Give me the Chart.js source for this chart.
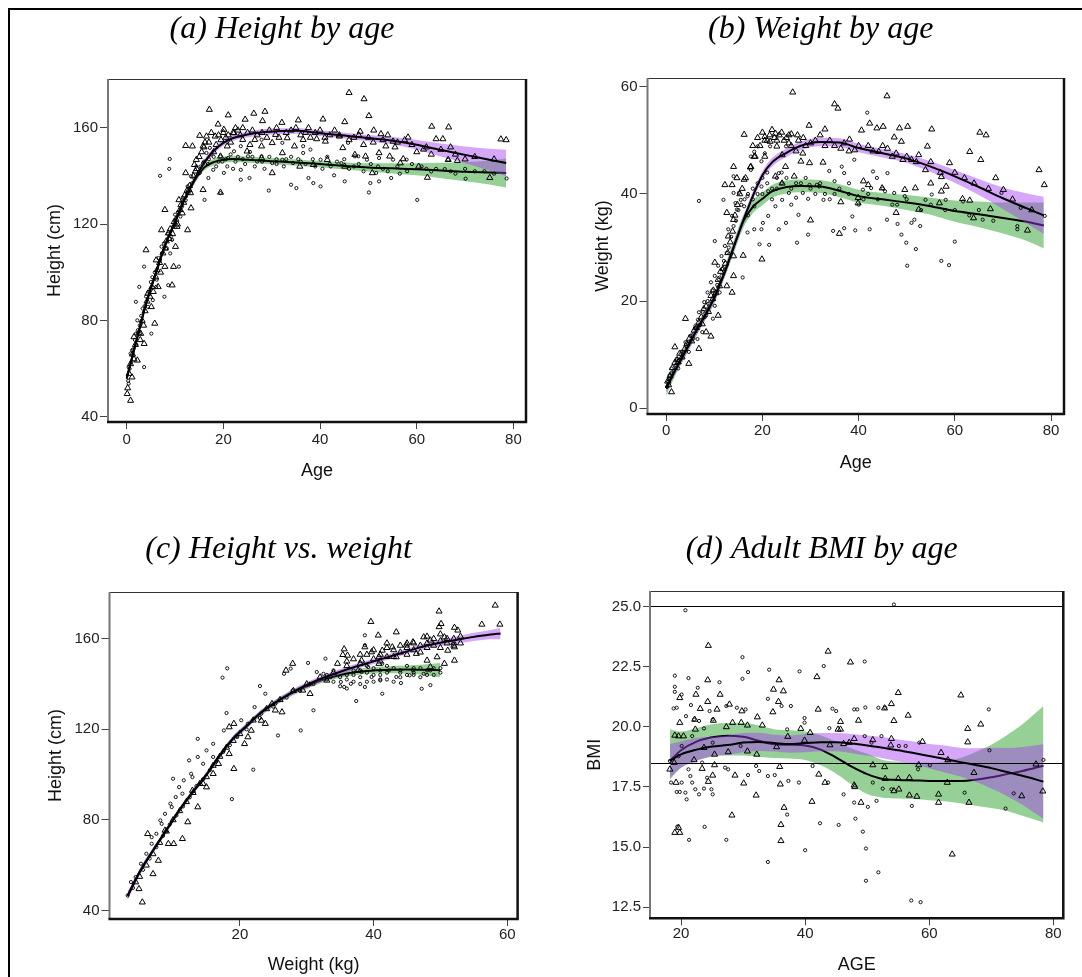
<!DOCTYPE html>
<html>
<head>
<meta charset="utf-8">
<script src="https://cdn.jsdelivr.net/npm/chart.js@4.4.0/dist/chart.umd.min.js"></script>
<style>
  body { margin: 0; background: #fff; width: 1082px; height: 977px; overflow: hidden; position: relative; }
  #frame { position: absolute; left: 8px; top: 8px; width: 1100px; height: 1000px; border-left: 2px solid #000; border-top: 2px solid #000; }
  canvas { position: absolute; }
</style>
</head>
<body>
<div id="frame"></div>
<script>
// ---------- (a) Height by age ----------
const aXTicks = [0, 20, 40, 60, 80];
const aYTicks = [40, 80, 120, 160];
const aTriangles = [
  [17.1,167.6],[21,165.3],[26.3,166],[28.6,166.8],[24.5,163.5],[18.9,161.5],[28.1,162.9],[32.1,162.2],[35.5,163.2],[40.6,163.6],
  [45.1,162.5],[46,174.6],[49.1,172],[50.1,165],[63.1,160.6],[66.6,160.3],[64,155.4],[65.4,155.4],[77.4,155.3],[78.5,155],
  [68.4,146.4],[66.5,146.8],[62.2,139.4],[75.1,139.3],[58.2,156.1],[56.6,145.4],[55.1,154.4],[52.6,157.5],[51.1,159],[48.3,158.5],
  [44,156.5],[41.1,154.4],[39.3,155.4],[37.6,160],[36.5,155.1],[34.7,152.4],[33.2,155.8],[30.8,157.2],[30.1,153.8],[27.9,152.4],
  [26.5,155.1],[24,155.1],[22.2,157.9],[20.1,159.3],[18.3,156.5],[16.5,156.5],[15.1,156.8],[13.6,152.4],[12.2,152.6],[15.8,152.4],
  [14.4,146.8],[14,144.7],[19.4,148.2],[20.8,152.4],[24.9,150.3],[27.9,147.5],[30.1,141.3],[32.2,149.6],[35.8,144],[38.6,144.7],
  [41.5,146.8],[44.7,151.7],[47.2,148.9],[49.4,148.2],[52.2,149.6],[54.4,148.2],[53.6,152.4],[61.4,151.1],[60.4,144],[57.2,147.1],
  [50.8,141.3],[45.1,144],[19.4,133.2],[15.8,134.3],[13.3,126.7],[12.6,117.6],
  [0.8,46.8],[1.1,56.5],[0.1,49.6],[2.2,63.5],[3.6,70.4],[1.5,73.2],[4,109.3],[5.8,78.8],[5.1,85.7],[6.5,94],
  [6.1,105.1],[7.9,102.4],[9.4,94.7],[9.7,102.4],[7.2,117.6],[8.6,116.3],[7.9,126],[10.4,119],[11.5,124.6],[10.8,130.1],
  [12.2,141.3],[12.9,134.3],[2.9,74.6],[4.4,91.3],[10.1,110.7],
  [0.2,52],[0.5,58],[0.8,62],[1.2,66],[1.5,64],[1.8,70],[2.5,75],[2.8,72],[3.2,80],[3.5,78],
  [3.8,84],[4.2,88],[4.8,90],[5.2,94],[5.5,92],[6,98],[6.3,101],[6.8,104],[7,100],[7.5,108],
  [8,110],[8.2,113],[8.8,114],[9,118],[9.5,116],[9.8,121],[10.2,122],[10.5,120],[11,126],[11.2,128],
  [11.8,129],[12,132],[12.5,134],[13,136],[13.2,133],[13.8,140],[14.2,142],[14.5,143],[15,148],[15.5,150],
  [16,152],[17,154],[18,150],[19,157],[20,158],[21,157],[23,159],[24,160],[22,158],[26,159],
  [28,158],[31,160],[34,159],[37,158],[39,158],[42,157],[44,157],[47,156],[50,156],[53,155],
  [56,154],[59,153],[62,152],[65,151],[68,149],[72,148],[76,147],
  [16.2,154],[17.5,158],[18.5,153],[19.5,155],[20.5,156],[21.5,154],[22.5,160],[23.5,157],[25,158],[25.5,153],
  [27,157],[29,156],[29.5,159],[31.5,156],[33,158],[35,160],[36,157],[38,156],[40,159],[41,156],
  [43,159],[46,155],[48,157],[49,153],[51,154],[54,157],[55.5,152],[57.5,155],[60,150],[63,149],
  [67,152],[70,147]
];
const aCircles = [
  [6.9,140.1],[8.8,143],[8.9,147.1],[16.1,130.1],[16.9,139.2],[19.4,132.9],[20.1,141.3],[23.6,138.5],[25.4,139.2],[29.4,134],
  [34,136.4],[35.1,135],[37.6,139.2],[38.6,137.1],[40.1,135.7],[42.9,140.3],[45.1,137.8],[50.1,133.2],[50.4,137.1],[52.2,137.8],
  [54.7,139.2],[60.1,130.1],[78.6,139],[70.1,138.9],[65.8,142.9],[63,141.9],[57.9,146.8],[55.1,146.8],[52.2,147.5],[49.7,146.8],
  [47.2,148.2],[44.4,145.4],[42.2,144],[40.1,146.8],[38,151],[36.5,149.6],[34.4,145.4],[32.2,146.8],[30.1,145.4],[27.9,148.2],
  [26.5,144],[25.1,148.2],[23.6,142.6],[22.2,150.3],[20.8,144],[19.4,148.2],[17.9,142.6],[17.2,151.7],[23.6,152.4],[27.9,155.1],
  [32.2,153.8],[36.5,152.4],[45.8,153.8],[47.9,148.2],[51.6,141.3],[66.5,146.8],
  [0.4,53.8],[0.4,60.7],[1.1,67.6],[1.9,74.6],[2.2,80.1],[1.9,87.8],[2.6,94],[3.6,102.4],[4.4,85.7],[5.4,88.5],
  [6.1,94],[6.9,105.1],[7.2,110.7],[7.8,89.9],[8.6,94.7],[9,107.9],[9.4,113.5],[10.1,119],[10.8,102.4],[11.1,123.2],
  [11.5,130.1],[12.6,135.7],[13.3,139.9],[14.4,144],[15.1,141.3],[15.8,145.4],[16.5,149.6],[5.1,74.6],[3.6,60.7],[0.8,66.3],
  [0.3,55],[0.6,60],[1,63],[1.3,68],[1.7,72],[2,70],[2.3,76],[2.7,78],[3,82],[3.3,85],
  [3.7,86],[4,90],[4.5,92],[5,96],[5.3,98],[5.8,100],[6.2,97],[6.6,106],[7.3,108],[7.7,112],
  [8.3,110],[8.6,116],[9.2,115],[9.6,119],[10,124],[10.6,125],[11.3,127],[11.6,131],[12.2,130],[12.8,133],
  [13.5,137],[14,139],[14.8,141],[15.3,144],[16,146],[17,147],[18,148],[19,146],[20.5,147],[21.5,149],
  [22.5,146],[24,147],[26,148],[28,146],[31,145],[33,147],[36,146],[39,144],[42,145],[46,143],
  [48,145],[53,143],[56,144],[58,142],[62,143],[68,141],[72,142],[76,141],
  [16.8,145],[17.5,149],[18.5,144],[19.8,146],[21,147.5],[22,143],[23,148],[24.5,145],[25.5,150],[27,146],
  [28.5,143],[29.5,148],[31,147],[32.5,144],[34,148],[35.5,147],[37,145],[38.5,147],[40.5,143],[41.5,148],
  [43.5,146],[45,147],[47,144],[49,142],[50.5,145],[52,144],[54,142],[56.5,141],[59,145],[61,144],
  [64,143],[67,142],[70,143],[74,142]
];
const aFitX      = [0, 2, 4, 6, 8, 10, 12, 14, 16, 18, 20, 22, 25, 30, 35, 40, 45, 50, 55, 60, 65, 70, 75, 78.5];
const aPurpleFit = [56, 71.5, 87, 99.5, 111.5, 121, 130.5, 138.5, 145.5, 150.5, 153.8, 155.8, 157.3, 158.5, 158.8, 157.8, 156.8, 155.8, 154.7, 153, 150.8, 148.8, 146.8, 145.4];
const aPurpleLo  = [54.5, 70.3, 85.8, 98.3, 110.3, 119.8, 129.3, 137.3, 144.2, 149.2, 152.6, 154.6, 156.1, 157.3, 157.6, 156.6, 155.6, 154.5, 153.2, 151, 148.1, 145.3, 142.3, 139.9];
const aPurpleHi  = [57.5, 72.7, 88.2, 100.7, 112.7, 122.2, 131.7, 139.7, 146.8, 151.8, 155, 157, 158.5, 159.7, 160, 159, 158, 157.1, 156.2, 155, 153.5, 152.3, 151.3, 150.9];
const aGreenFit  = [56, 71.5, 87, 99.5, 111.5, 121, 130.5, 138, 143.5, 145.8, 146.8, 147.1, 146.8, 146.2, 145.6, 145, 144.2, 143.6, 143.2, 142.8, 142.3, 141.8, 141.5, 141.3];
const aGreenLo   = [54.5, 70.3, 85.8, 98.3, 110.3, 119.8, 129.3, 136.8, 142.2, 144.5, 145.5, 145.8, 145.5, 144.9, 144.3, 143.7, 142.7, 141.9, 141.1, 140.3, 139.1, 137.8, 136.5, 135.3];
const aGreenHi   = [57.5, 72.7, 88.2, 100.7, 112.7, 122.2, 131.7, 139.2, 144.8, 147.1, 148.1, 148.4, 148.1, 147.5, 146.9, 146.3, 145.7, 145.3, 145.3, 145.3, 145.5, 145.8, 146.5, 147.3];

// ---------- (b) Weight by age ----------
const bXTicks = [0, 20, 40, 60, 80];
const bYTicks = [0, 20, 40, 60];
const bTriangles = [
  [26.3,59],[45.9,58.3],[35,56.8],[35.7,56],[29.7,52.8],[33,52.1],[16.2,51.1],[55.2,52.1],[65.2,51.5],[66.5,51],
  [42.3,53.2],[43.8,52.3],[45.1,52.6],[48.5,52.3],[50.2,52.6],[40.6,51.9],[47.4,50.6],[48.9,49.8],[38.1,50.2],[36.3,48.5],
  [39.2,48.2],[44.2,47.9],[46,48.5],[47.8,47.6],[49.2,46.4],[51,46.4],[52.5,47.3],[53.9,44.5],[54.3,48.9],[58.9,45.8],
  [63.1,47.9],[65.4,46.4],[68.5,43],[57.2,43.2],[55,42],[58.2,41.4],[57.2,40.5],[51.8,41.1],[49.6,40.8],[44.9,41.1],
  [42,41.7],[41,42.4],[61.6,39.1],[63.1,38.8],[67.4,37.2],[63.9,35.5],[75.1,33.2],[77.5,44.5],[78.6,41.7],[70.1,40.8],
  [47.8,36.5],[56.8,38.3],[52.5,37.1],[36.3,38.5],[36,32.6],[39.9,38.3],[39.9,39.3],[30,35.1],[32.6,45.9],[29.8,45.8],
  [28,46.1],[26.6,43.3],[28.4,47.6],[24.8,45.1],[24.1,47.3],[23,48.9],[21.6,49.8],[20.5,50.7],[22.7,51.3],[25.5,51],
  [27.3,51],[25.5,49.5],[24.1,42],[22.7,43.3],[20.5,47],[18.3,47],[17.6,45.1],[16.2,42.7],[14,45.1],[14.7,43],
  [12.2,41.7],[13.7,41.7],[12.6,36.5],[14,35.2],[12.9,32.1],[14,28.4],[16,28.5],[19.9,27.8],[14,24.7],[12.6,22.8],
  [13.7,21.6],[10.1,27.2],[10.8,17.3],[9.3,13.4],[4,16.7],[4.7,8.3],[1.8,11.4],[1.1,3],[0.5,4.3],[2.5,8.6],
  [6.8,11.1],[7.5,15.7],[8.3,14.2],[9.7,20.4],[11.1,22.8],
  [0.3,5],[0.8,6],[1.3,7.5],[1.8,8.5],[2.3,9],[2.8,10.2],[3.3,9.5],[3.8,11],[4.3,12],[4.8,13],
  [5.3,12.5],[5.8,14.5],[6.3,15],[6.8,16],[7.3,17],[7.8,18.5],[8.3,19],[8.8,18],[9.3,21],[9.8,22],
  [10.3,21.5],[10.8,24],[11.3,25.5],[11.8,26],[12.3,27],[12.8,29],[13.3,31],[13.8,33],[14.3,36],[14.8,38],
  [15.3,40],[15.8,41],[16.5,43],[17.5,45],[18.5,47],[19.5,49],[20.5,50],[21.5,51],[22.5,50.5],[23.5,51],
  [24.5,50],[26,49],[27,48],[29,49],[31,50],[33,49],[35,49],[38,48],[42,49],[47,47],
  [52,46],[57,44],[62,43],[67,41],[72,39],[76,37],
  [18,49],[19,50.5],[20,51.5],[21,50],[22,52],[23,50],[24,51.5],[25,50.5],[26,51.2],[27.5,50],
  [28.5,50.5],[30,49.5],[32,51],[34,50],[37,49.5],[40,49],[43,48],[45,49],[50,47],[55,46],
  [60,44],[64,42]
];
const bCircles = [
  [41.8,55.2],[6.8,38.7],[10.1,31.2],[11.9,38.9],[15.9,24.4],[19.4,30.6],[21.4,30.5],[23.4,33.4],[24.9,34.6],[27.2,30.9],
  [29.5,32.4],[27.5,36.1],[29.5,39.1],[31.8,41.4],[33.9,44.3],[34.7,33.1],[37,33.6],[38.7,35.8],[39.3,33.2],[42.3,33.4],
  [42.6,41.1],[43,44.2],[45.9,35.2],[45.5,40.5],[48.1,34.4],[48.9,32.4],[49.9,30.9],[50.1,26.6],[51,34.6],[51.6,35.2],
  [51.9,29.7],[52.8,34],[55.2,39.9],[57.2,27.5],[58.8,26.7],[60,31.1],[73,33.4],[78.7,35.9],[69.7,40.2],[73.7,37.4],
  [65.8,35.2],[61.7,38.6],[58.1,38.9],[53.9,38.9],[49.6,39.6],[47.4,40.2],[46,43.9],[43.8,43],[40.9,40.8],[39.1,46.4],
  [37,43.9],[36.5,45.1],[35,42.4],[32.7,38.9],[31.3,41.7],[29.8,41.7],[28.4,40.2],[27,39.3],[25.5,40.2],[24.1,38.9],
  [22.7,37.7],[21.2,35.9],[20.1,34.6],[19.8,33.4],[18.3,33.4],[16.9,32.8],[18.3,37.7],[19.8,41.4],[21.2,40.5],[16.9,39.6],
  [15.5,38.9],[16.2,37.7],[14.7,37.1],[14,40.2],[18.3,47.9],[19,48.9],[19.8,46.1],[17.6,44.5],[17.6,47],[20.5,47.6],
  [21.6,48.9],[23.4,43.9],[24.9,48.9],[14,43.3],
  [0.4,4.9],[1.1,7.4],[2.2,9.2],[3.2,10.5],[4,12.3],[5.4,13.6],[6.1,15.4],[6.8,17.9],[7.9,19.8],[8.6,21.6],
  [9.3,23.5],[10.1,24.7],[10.8,26.6],[11.5,28.4],[12.2,30.3],[12.9,33.4],[13.7,35.9],[14.4,38.3],[15.1,40.2],[0.7,6.1],
  [2.5,7.4],[4.7,10.5],[6.5,12.9],[7.5,14.2],[8.3,17.3],[9.7,16.7],[10.1,19.1],[11.1,21.6],[11.5,24.7],
  [0.2,4],[0.6,5.5],[1,6.5],[1.6,7],[2,8],[2.6,9],[3,10],[3.6,10.5],[4.2,11.5],[4.6,12],
  [5,13.5],[5.6,13],[6,15],[6.6,16.5],[7,15.5],[7.6,18],[8,17],[8.6,20],[9,19.5],[9.6,22],
  [10,21],[10.6,23],[11,24],[11.6,26],[12,27.5],[12.6,29],[13,30],[13.5,32],[14,34],[14.5,35],
  [15,37],[15.6,38],[16.3,39],[17,40],[18,41],[19,42],[20,40],[21,42],[22,41],[23,43],
  [24,42],[26,41],[28,42],[30,41],[32,42],[35,40],[38,40],[41,39],[44,39],[48,38],
  [53,37],[58,37],[63,36],[68,35],[73,34],
  [17,36],[18,39],[19,40],[20,43],[21,44],[22,39],[23,41],[24,44],[25,43],[26,38],
  [27,42],[29,43],[31,40],[33,40],[34,39],[36,41],[38,42],[40,38],[42,40],[45,41],
  [47,38],[50,39],[55,38],[60,37],[65,37]
];
const bFitX      = [0, 2, 4, 6, 8, 10, 12, 14, 16, 18, 20, 22, 25, 28, 32, 36, 40, 45, 50, 55, 60, 65, 70, 75, 78.5];
const bPurpleFit = [3.7, 7.3, 10.6, 14, 17.2, 20.6, 25, 30, 35, 39.6, 43.5, 45.9, 47.7, 49, 49.7, 49.6, 48.6, 47.6, 46.6, 45.1, 43.3, 41.3, 39.2, 37.3, 36];
const bPurpleLo  = [2.9, 6.5, 9.8, 13.2, 16.4, 19.8, 24.2, 29.2, 34.2, 38.8, 42.7, 45.1, 46.9, 48.2, 48.9, 48.8, 47.8, 46.8, 45.8, 44.1, 42.1, 39.8, 37.2, 34.5, 32.5];
const bPurpleHi  = [4.5, 8.1, 11.4, 14.8, 18, 21.4, 25.8, 30.8, 35.8, 40.4, 44.3, 46.7, 48.5, 49.8, 50.5, 50.4, 49.4, 48.4, 47.4, 46.1, 44.5, 42.8, 41.2, 40.1, 39.5];
const bGreenFit  = [3.7, 7.3, 10.6, 14, 17.2, 20.6, 25, 30, 34.8, 37.6, 39.1, 40.5, 41.3, 41.5, 41.4, 40.6, 39.6, 39, 38.4, 37.7, 36.8, 36.2, 35.5, 34.8, 34.1];
const bGreenLo   = [2.2, 6.3, 9.6, 13, 16.2, 19.6, 24, 28.8, 33.6, 36.4, 37.9, 39.3, 40.1, 40.3, 40.2, 39.4, 38.4, 37.8, 37, 36.1, 34.8, 33.8, 32.6, 31.2, 29.8];
const bGreenHi   = [5.2, 8.3, 11.6, 15, 18.2, 21.6, 26, 31.2, 36, 38.8, 40.3, 41.7, 42.5, 42.7, 42.6, 41.8, 40.8, 40.2, 39.8, 39.3, 38.8, 38.6, 38.4, 38.4, 38.4];

// ---------- (c) Height vs. weight ----------
const cXTicks = [20, 40, 60];
const cYTicks = [40, 80, 120, 160];
const cTriangles = [
  [49.8,172.1],[58.2,174.7],[58.9,166.3],[56.2,166.3],[39.6,167.5],[40.7,161.5],[43.4,162.9],[50.1,166.6],[49.8,165.2],[52.1,164.9],
  [52.6,163.7],[50.6,160.7],[48.5,159.3],[47.5,160.7],[45.9,158.5],[44.9,157.1],[42.8,156.3],[41.3,154.8],[39.7,154.1],[38.7,156.3],
  [35.6,155.4],[35.4,152.9],[36.1,152.6],[34.6,149],[38.2,150.4],[40.8,149],[43.4,151.9],[46.4,153.4],[48,150.4],[49.5,151.9],
  [51.1,154.8],[52.1,156.3],[52.1,150.4],[50.6,149],[48.5,147.5],[27.9,149],[26.9,146],[29.4,137.2],[24.8,131.3],[26.3,127.6],
  [23.2,123.9],[21.7,119.5],[20.7,113.6],[19.1,122.5],[18.4,121],[19.1,102.6],[18.4,109.2],[16,100.4],[15,94.5],[13.7,85.7],
  [12.2,79.1],[11.4,71.7],[10.1,69.5],[9.3,69.5],[8.8,75.4],[7.8,62.1],[7,56.2],[4.9,49.6],[5.4,43.7],[4.4,52.6],
  [6.2,73.9],[12.9,93],[14.5,96],[16.8,104.8],[21.2,116.6],[23.8,122.5],[25.3,128.4],[30.5,135.7],[33,141.6],[37.7,146],
  [40.8,151.9],
  [5,55],[6,60],[7,65],[8,70],[9,75],[10,80],[11,84],[12,88],[13,92],[14,96],
  [15,99],[16,104],[17,108],[18,112],[19,115],[20,118],[22,124],[24,129],[26,133],[28,137],
  [30,140],[32,143],[34,145],[36,148],[38,149],[40,151],[41,153],[42,152],[43,155],[44,154],
  [45,156],[46,155],[47,157],[48,158],[49,157],[50,159],[51,158],[52,160],[53,161],[36,150],
  [39,153],[42,156],[45,158],[48,161],[50,156],[52,157],
  [37,151],[38,153],[40,155],[41,150],[42,158],[43,152],[44,157],[45,153],[46,158],[47,154],
  [48,156],[49,160],[50,162],[51,160],[52,158],[53,158]
];
const cCircles = [
  [18.1,146.9],[17.4,142.8],[18,127.2],[13.7,115.8],[10,98.2],[22,102.2],[18.8,89.2],[25.7,117.3],[29.1,119.5],[23,139.1],
  [26.6,144.5],[27.6,146.8],[30.2,149.3],[31,128.4],[32.8,151.2],[38.7,161.5],[38.7,157.1],[35.6,138.7],[37.4,132.5],[41.3,135.7],
  [47.2,137.9],[48.5,139.5],[44.1,140.4],[41,141.6],[38.7,138.7],[36.6,140.1],[35.1,140.9],[33.6,143.1],[32.5,144.5],[31.5,145.3],
  [45.4,143.8],[47.5,144.5],[43.4,143.1],[39.7,143.1],[38.2,145.3],[42.3,146],[45.9,146],[48.5,146],[41.3,149],[39.2,147.5],
  [23.8,135.7],[22.2,129.8],[20.2,124],[17.6,119.5],[16,113.6],[15,110.7],[13.7,107.8],[12.4,106.3],[12.7,100.4],[11.6,97.5],
  [10.9,94.5],[10.4,90.1],[9.6,87.2],[8.8,82.7],[8.3,78.3],[7.5,73.9],[6.8,69.5],[6,65.1],[5.2,60.7],[4.4,54.8],
  [3.7,52.6],[3.2,46.7],[6.8,72.4],[8.1,79.8],[9.8,85.7],[11.4,91.6],[12.9,98.9],[14.5,104.8],[16,107.8],[17.6,110.7],
  [19.6,116.6],[21.2,122.5],[23.2,126.9],[25.3,131.3],[27.9,137.2],[30.5,140.1],
  [4,50],[5.5,58],[6.5,63],[7.5,68],[8.5,73],[9.5,78],[10.5,82],[11.5,86],[12.5,90],[13.5,95],
  [14.5,98],[15.5,102],[16.5,106],[17.5,110],[18.5,113],[19.5,117],[21,120],[23,125],[25,130],[27,134],
  [29,137],[31,140],[33,142],[34,141],[35,143],[36,142],[37,144],[38,143],[39,145],[40,144],
  [41,146],[42,145],[43,147],[44,146],[45,148],[46,145],[47,147],[48,146],[49,147],[50,145],
  [36,138],[38,140],[40,141],[42,142],[44,143],[46,144],[37,146],[39,148],[41,144],
  [35,139],[36,144],[37,141],[38,146],[39,141],[40,147],[41,142],[42,148],[43,141],[44,145],
  [45,144],[46,147],[47,143],[48,144],[49,144],[50,147],[33,144],[34,146]
];
const cPurpleX   = [3.2, 5, 7, 9, 11, 13, 15, 17, 19, 21, 23, 25, 27.5, 30, 32.5, 35, 37.5, 40, 42.5, 45, 47.5, 50, 52.5, 55, 57.5, 59];
const cPurpleFit = [46.5, 57, 66.5, 75.5, 84.5, 92.5, 100, 108.5, 116, 121.5, 127, 131.2, 135.8, 139.6, 142.8, 145.4, 147.8, 150, 152.2, 154.4, 156.6, 158.2, 159.5, 160.8, 161.8, 162.3];
const cPurpleLo  = [44.5, 55.5, 65.3, 74.3, 83.3, 91.3, 98.8, 107.3, 114.8, 120.3, 125.8, 130, 134.6, 138.4, 141.6, 144.2, 146.6, 148.8, 151, 153.2, 155.3, 156.8, 157.9, 159, 159.8, 159.8];
const cPurpleHi  = [48.5, 58.5, 67.7, 76.7, 85.7, 93.7, 101.2, 109.7, 117.2, 122.7, 128.2, 132.4, 137, 140.8, 144, 146.6, 149, 151.2, 153.4, 155.6, 157.9, 159.6, 161.1, 162.6, 163.8, 164.8];
const cGreenX    = [3.2, 5, 7, 9, 11, 13, 15, 17, 19, 21, 23, 25, 27.5, 30, 32.5, 35, 37.5, 40, 42.5, 45, 47.5, 50];
const cGreenFit  = [46.5, 57, 66.5, 75.5, 84.5, 92.5, 100, 108.5, 116, 121.5, 127, 131.2, 135.6, 139, 142, 144, 145.3, 146, 146.3, 146.4, 146.3, 146.1];
const cGreenLo   = [45, 55.7, 65.3, 74.3, 83.3, 91.3, 98.8, 107.3, 114.8, 120.3, 125.8, 130, 134.4, 137.8, 140.8, 142.8, 144, 144.6, 144.7, 144.6, 144, 142.9];
const cGreenHi   = [48, 58.3, 67.7, 76.7, 85.7, 93.7, 101.2, 109.7, 117.2, 122.7, 128.2, 132.4, 136.8, 140.2, 143.2, 145.2, 146.6, 147.4, 147.9, 148.2, 148.6, 149.3];

// ---------- (d) Adult BMI by age ----------
const dXTicks = [20, 40, 60, 80];
const dYTicks = [12.5, 15, 17.5, 20, 22.5, 25];
const dRefLines = [25, 18.5];
const dTriangles = [
  [24.4,23.37],[43.7,23.13],[47.3,22.68],[24.3,21.94],[35.8,21.94],[41.9,22.07],[34.9,21.55],[36.5,21.48],[22.4,21.34],[26.3,21.34],
  [19.8,21.2],[24.3,21.04],[55,21.41],[65.1,21.31],[35.7,21.04],[27.8,20.93],[23.1,20.75],[25.8,20.72],[29.8,20.65],[34.8,20.61],
  [42.1,20.72],[53.9,20.95],[52.8,20.77],[56.6,20.47],[54.3,20.25],[48.6,20.26],[45.7,20.21],[32.3,20.4],[29.7,20.17],[28.3,20.17],
  [25.2,20.26],[22.2,20.3],[19.8,20.17],[19,19.64],[19.6,19.61],[20.4,19.61],[22.3,19.89],[27.3,19.99],[30.7,20.06],[33.1,20.06],
  [39.3,19.92],[37.2,19.59],[40.8,19.75],[45.3,19.89],[45.7,19.89],[66.2,19.92],[68.3,20.1],[58.9,19.38],[66.2,19.36],[53.9,19.5],
  [53.8,19.23],[50.9,19.45],[47.9,19.5],[47.1,19.34],[44,19.24],[46.2,19.29],[39.9,19.43],[35.4,19.16],[32.2,18.85],[30.7,18.98],
  [27.6,18.95],[25.4,18.85],[23.7,19.13],[61.9,18.92],[63,18.62],[67.2,18.09],[77.2,18.44],[58.3,18.41],[52.8,18.33],[50.9,18.41],
  [35.9,18.34],[25.4,18.41],[23.4,18.26],[22.1,18.62],[18.9,18.51],[18.2,18.23],[19.2,17.68],[42.2,18.02],[52.9,17.84],[55,17.84],
  [56.8,17.88],[36,17.61],[43.2,17.68],[48,17.5],[62.9,17.68],[78.3,17.32],[74.9,17.12],[56.8,17.15],[58,17.1],[61.5,17.19],
  [61.5,16.85],[66.4,16.85],[49,16.85],[41.1,16.89],[36.6,16.64],[28.2,16.32],[36.1,15.93],[36.1,15.26],[63.7,14.7],[19,15.6],
  [19.8,15.6],[19.6,15.81],[32.1,17.15],[30.1,17.65],[28.7,17.98],[25.1,17.98],[24.4,17.72],[47.9,17.57],[54.3,17.33],[55.1,17.4]
];
const dCircles = [
  [20.7,24.84],[54.3,25.08],[29.9,22.89],[30.8,22.27],[29.9,21.99],[19,22.12],[19,21.66],[19,21.45],[21.2,22.02],[22.7,21.62],
  [26.2,21.85],[34.2,22.37],[39.1,22.3],[43,22.52],[49.6,22.71],[18.8,20.76],[19.3,20.79],[20.1,21.34],[20.8,20.44],[21.6,20.9],
  [22.1,20.3],[22.9,20.24],[23.7,19.93],[24.6,20.65],[25.1,20.3],[27.3,20.86],[29,20.79],[30.4,20.72],[34,21.16],[36.2,20.86],
  [37.1,19.89],[37.7,20.86],[39.9,20.36],[39.9,20.17],[43.9,19.94],[44.4,20.75],[45,20.65],[47.9,20.72],[48.4,20.72],[49.7,20.8],
  [51.8,20.79],[52.3,19.61],[52.9,20.79],[55.1,19.2],[69.6,20.72],[69.7,19.02],[78.4,18.62],[60.1,18.4],[18.2,18.58],[18.4,17.68],
  [19.3,17.29],[19.8,17.29],[20.1,17.68],[20.7,17.26],[20.9,16.98],[21.2,18.23],[21.5,17.95],[21.8,17.68],[22.3,17.4],[22.9,17.19],
  [23.4,18.51],[24.2,17.88],[24.9,17.4],[25.1,17.19],[27.1,18.3],[27.6,18.23],[29.6,19.2],[30.8,17.99],[32.1,18.37],[32.6,18.16],
  [35.1,17.99],[37.1,16.35],[37.3,17.75],[39,17.68],[41.2,18.37],[43.7,17.68],[46.2,17.19],[47.9,16.85],[48.1,16.18],[49.3,15.64],
  [49.8,14.94],[49.8,13.6],[50.1,16.67],[51.5,16.92],[51.8,13.95],[52.5,17.43],[50.9,17.68],[53.9,17.4],[57.2,16.71],[57.1,12.78],
  [58.6,12.71],[65.7,17.26],[72.3,16.6],[73.6,17.23],[58.2,18.23],[58.4,19.34],[56.2,19.2],[49.6,19.61],[50.7,19.34],[42.4,15.99],
  [45.4,15.92],[40,14.87],[34,14.38],[27.3,15.3],[23.8,15.84],[21.3,15.3],[19.4,15.85],[23.7,17.43],[34,17.95],[21.8,19.61],
  [20.1,19.2],[19.6,18.78],[25.1,19.34]
];
const dFitX      = [18.2, 20, 22.5, 25, 27.5, 30, 32.5, 35, 37.5, 40, 42.5, 45, 47.5, 50, 52.5, 55, 57.5, 60, 62.5, 65, 67.5, 70, 72.5, 75, 78.4];
const dPurpleFit = [18.58, 18.85, 19.05, 19.18, 19.24, 19.34, 19.37, 19.32, 19.28, 19.32, 19.36, 19.36, 19.3, 19.22, 19.13, 19.02, 18.91, 18.78, 18.66, 18.53, 18.41, 18.28, 18.12, 17.96, 17.72];
const dPurpleLo  = [17.88, 18.3, 18.57, 18.78, 18.84, 18.94, 18.99, 18.97, 18.92, 18.94, 18.98, 18.98, 18.9, 18.8, 18.69, 18.57, 18.43, 18.28, 18.1, 17.93, 17.71, 17.43, 17.12, 16.76, 16.17];
const dPurpleHi  = [19.28, 19.4, 19.53, 19.58, 19.64, 19.74, 19.75, 19.67, 19.64, 19.7, 19.74, 19.74, 19.7, 19.64, 19.57, 19.47, 19.39, 19.28, 19.22, 19.13, 19.11, 19.13, 19.12, 19.16, 19.27];
const dGreenFit  = [18.58, 19.02, 19.38, 19.56, 19.63, 19.58, 19.42, 19.27, 19.25, 19.22, 19.05, 18.72, 18.34, 18.03, 17.83, 17.79, 17.77, 17.75, 17.75, 17.75, 17.8, 17.9, 18.03, 18.16, 18.38];
const dGreenLo   = [17.8, 18.3, 18.6, 18.75, 18.8, 18.8, 18.75, 18.7, 18.68, 18.62, 18.4, 18.05, 17.6, 17.2, 17.05, 17.02, 17, 16.95, 16.9, 16.82, 16.72, 16.62, 16.5, 16.3, 16.02];
const dGreenHi   = [19.9, 19.8, 19.95, 20.1, 20.15, 20.15, 20.05, 19.9, 19.85, 19.8, 19.65, 19.38, 19.1, 18.88, 18.62, 18.55, 18.5, 18.5, 18.55, 18.7, 18.95, 19.25, 19.65, 20.1, 20.86];

// ---------- drawing ----------
const PURPLE = 'rgba(164, 60, 240, 0.45)';
const GREEN = 'rgb(150, 208, 150)';

Chart.defaults.font.family = "'Liberation Sans', Arial, sans-serif";
Chart.defaults.color = '#222';

const xy = (xs, ys) => xs.map((x, i) => ({x: x, y: ys[i]}));
const pairs = pts => pts.map(p => ({x: p[0], y: p[1]}));

function bandSets(xs, lo, hi, color, order) {
  return [
    {data: xy(xs, lo), borderWidth: 0, pointRadius: 0, fill: false, order: order, cubicInterpolationMode: 'monotone'},
    {data: xy(xs, hi), borderWidth: 0, pointRadius: 0, fill: '-1', backgroundColor: color, order: order, cubicInterpolationMode: 'monotone'}
  ];
}
function fitSet(xs, ys, order) {
  return {data: xy(xs, ys), borderColor: '#000', borderWidth: 2, pointRadius: 0, fill: false, order: order, cubicInterpolationMode: 'monotone'};
}
function pointSet(pts, style, r, bw) {
  return {data: pairs(pts), showLine: false, pointStyle: style, pointRadius: r, pointBorderWidth: bw,
          pointBorderColor: '#000', pointBackgroundColor: 'rgba(0,0,0,0)', order: 0};
}

const boxFrame = {
  id: 'boxFrame',
  afterDatasetsDraw(chart, args, opts) {
    const {ctx, chartArea: {left, top, right, bottom}} = chart;
    const yScale = chart.scales.y;
    ctx.save();
    ctx.strokeStyle = '#000';
    ctx.lineWidth = 1;
    (opts.refLines || []).forEach(v => {
      const py = Math.round(yScale.getPixelForValue(v)) + 0.5;
      ctx.beginPath(); ctx.moveTo(left, py); ctx.lineTo(right, py); ctx.stroke();
    });
    ctx.strokeStyle = '#333'; ctx.lineWidth = 1;
    ctx.beginPath(); ctx.moveTo(left, top + 0.5); ctx.lineTo(right, top + 0.5); ctx.stroke();
    ctx.strokeStyle = '#777'; ctx.lineWidth = 2;
    ctx.beginPath(); ctx.moveTo(left, top); ctx.lineTo(left, bottom); ctx.stroke();
    ctx.strokeStyle = '#111'; ctx.lineWidth = 2.5;
    ctx.beginPath(); ctx.moveTo(right, top); ctx.lineTo(right, bottom); ctx.lineTo(left - 1, bottom); ctx.stroke();
    ctx.restore();
  }
};

function axis(cfg) {
  return {
    type: 'linear', min: cfg.min, max: cfg.max,
    afterBuildTicks: s => { s.ticks = cfg.ticks.map(v => ({value: v})); },
    afterFit: s => { if (cfg.horizontal) s.height = cfg.size; else s.width = cfg.size; },
    grid: {display: true, drawOnChartArea: false, drawTicks: true, tickLength: cfg.tickLen, tickColor: '#444', tickWidth: 1},
    border: {display: false},
    ticks: {font: {size: 15}, color: '#222', padding: cfg.pad, maxRotation: 0, autoSkip: false,
            callback: v => cfg.dec ? v.toFixed(1) : String(v)},
    title: {display: true, text: cfg.title, font: {size: 18}, color: '#111', padding: cfg.titlePad}
  };
}

function makePanel(p) {
  const cv = document.createElement('canvas');
  cv.width = p.w; cv.height = p.h;
  cv.style.left = p.left + 'px'; cv.style.top = p.top + 'px';
  cv.style.width = p.w + 'px'; cv.style.height = p.h + 'px';
  document.body.appendChild(cv);
  new Chart(cv.getContext('2d'), {
    type: 'line',
    data: {datasets: p.datasets},
    options: {
      responsive: false, animation: false, devicePixelRatio: 1,
      layout: {padding: p.padding},
      plugins: {
        legend: {display: false}, tooltip: {enabled: false},
        title: {display: true, text: p.title, color: '#000',
                font: {family: "'Liberation Serif', 'Times New Roman', serif", size: 32, style: 'italic', weight: 'normal', lineHeight: 1.125},
                padding: p.titlePad},
        boxFrame: {refLines: p.refLines || []}
      },
      scales: {x: p.x, y: p.y}
    },
    plugins: [boxFrame]
  });
}

makePanel({
  left: 18, top: 0, w: 522, h: 490, title: '(a) Height by age',
  padding: {left: 20, right: 14, top: 0, bottom: 8}, titlePad: {top: 12, bottom: 31},
  x: axis({horizontal: true, size: 60, min: -3.87, max: 82.6, ticks: aXTicks, tickLen: 7, pad: 2, title: 'Age', titlePad: {top: 0, bottom: 0}}),
  y: axis({size: 70, min: 37.9, max: 180.3, ticks: aYTicks, tickLen: 8, pad: 2, title: 'Height (cm)', titlePad: {top: 6, bottom: 0}}),
  datasets: [
    pointSet(aTriangles, 'triangle', 3.5, 1), pointSet(aCircles, 'circle', 1.6, 0.9),
    fitSet(aFitX, aPurpleFit, 1), ...bandSets(aFitX, aPurpleLo, aPurpleHi, PURPLE, 2),
    fitSet(aFitX, aGreenFit, 3), ...bandSets(aFitX, aGreenLo, aGreenHi, GREEN, 4)
  ]
});

makePanel({
  left: 564, top: 0, w: 518, h: 490, title: '(b) Weight by age',
  padding: {left: 13.5, right: 18, top: 0, bottom: 16}, titlePad: {top: 12, bottom: 30},
  x: axis({horizontal: true, size: 60, min: -3.89, max: 82.7, ticks: bXTicks, tickLen: 7, pad: 1, title: 'Age', titlePad: {top: 0, bottom: 0}}),
  y: axis({size: 70, min: -1.11, max: 61.67, ticks: bYTicks, tickLen: 8, pad: 2, title: 'Weight (kg)', titlePad: {top: 15, bottom: 0}}),
  datasets: [
    pointSet(bTriangles, 'triangle', 3.5, 1), pointSet(bCircles, 'circle', 1.6, 0.9),
    fitSet(bFitX, bPurpleFit, 1), ...bandSets(bFitX, bPurpleLo, bPurpleHi, PURPLE, 2),
    fitSet(bFitX, bGreenFit, 3), ...bandSets(bFitX, bGreenLo, bGreenHi, GREEN, 4)
  ]
});

makePanel({
  left: 18, top: 490, w: 522, h: 487, title: '(c) Height vs. weight',
  padding: {left: 21.5, right: 22.4, top: 0, bottom: 0}, titlePad: {top: 42, bottom: 24},
  x: axis({horizontal: true, size: 58, min: 0.49, max: 61.55, ticks: cXTicks, tickLen: 7, pad: 0, title: 'Weight (kg)', titlePad: {top: 0, bottom: 1}}),
  y: axis({size: 70, min: 36.3, max: 180.6, ticks: cYTicks, tickLen: 8, pad: 2, title: 'Height (cm)', titlePad: {top: 6, bottom: 0}}),
  datasets: [
    pointSet(cTriangles, 'triangle', 3.5, 1), pointSet(cCircles, 'circle', 1.6, 0.9),
    fitSet(cPurpleX, cPurpleFit, 1), ...bandSets(cPurpleX, cPurpleLo, cPurpleHi, PURPLE, 2),
    fitSet(cGreenX, cGreenFit, 3), ...bandSets(cGreenX, cGreenLo, cGreenHi, GREEN, 4)
  ]
});

makePanel({
  left: 564, top: 490, w: 518, h: 487, title: '(d) Adult BMI by age', refLines: dRefLines,
  padding: {left: 16, right: 18.7, top: 0, bottom: 0}, titlePad: {top: 42, bottom: 23},
  x: axis({horizontal: true, size: 58.7, min: 15, max: 81.6, ticks: dXTicks, tickLen: 7, pad: 0, title: 'AGE', titlePad: {top: 0, bottom: 1}}),
  y: axis({size: 70, min: 12.04, max: 25.64, ticks: dYTicks, tickLen: 7, pad: 2, dec: true, title: 'BMI', titlePad: {top: 4, bottom: 0}}),
  datasets: [
    pointSet(dTriangles, 'triangle', 3.5, 1), pointSet(dCircles, 'circle', 1.6, 0.9),
    fitSet(dFitX, dPurpleFit, 1), ...bandSets(dFitX, dPurpleLo, dPurpleHi, PURPLE, 2),
    fitSet(dFitX, dGreenFit, 3), ...bandSets(dFitX, dGreenLo, dGreenHi, GREEN, 4)
  ]
});
</script>
</body>
</html>
